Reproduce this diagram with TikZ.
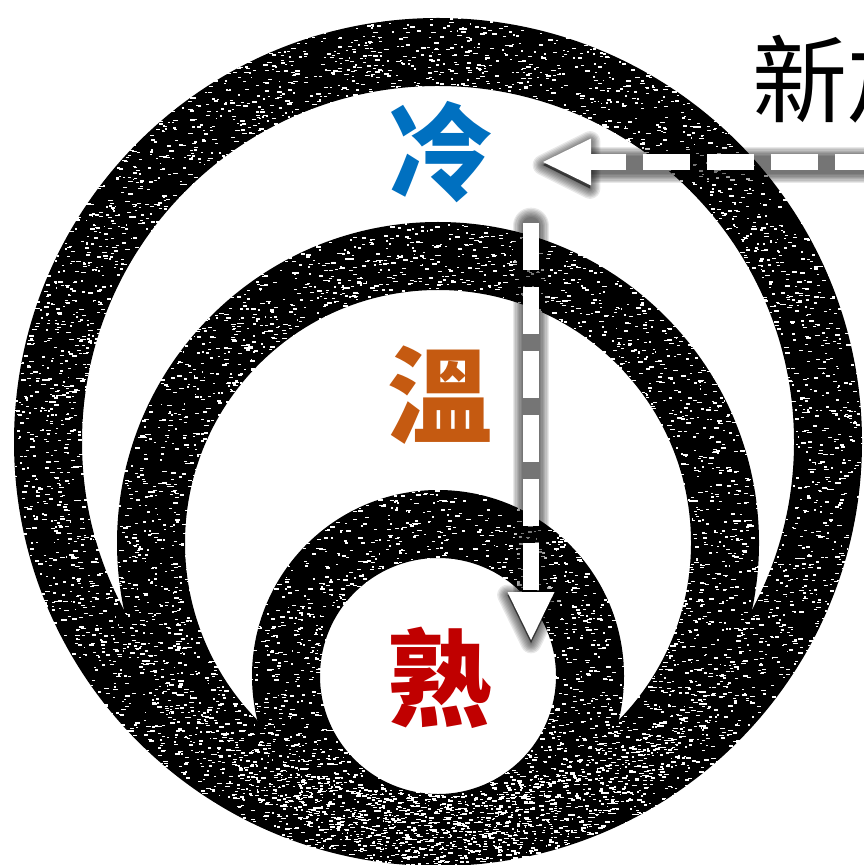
\documentclass[tikz,border=0pt]{standalone}
\usepackage{fontspec}
\newfontfamily\cjk{Noto Sans CJK TC}
\usetikzlibrary{arrows.meta}
\definecolor{coldblue}{HTML}{0070C0}
\definecolor{warmorange}{HTML}{C55A11}
\definecolor{hotred}{HTML}{C00000}
\begin{document}
\begin{tikzpicture}[x=0.3pt,y=-0.3pt,
  ringfill/.style={fill=black, even odd rule},
  speck/.style={fill=white},
  tierlabel/.style={font=\cjk\bfseries\fontsize{31.5pt}{31.5pt}\selectfont, inner sep=0pt},
  newlabel/.style={font=\cjk\fontsize{28.5pt}{28.5pt}\selectfont, inner sep=0pt, text=black},
  flowline/.style={draw=white, line width=4.8pt, dash pattern=on 14.1pt off 5.1pt,
    -{Triangle[width=14.1pt,length=14.4pt,line width=0pt]}},
  glowline/.style={draw=black, line cap=round, line join=round},
  glowhead/.style={fill=black, draw=black, line join=round}]
\useasboundingbox (0,0) rectangle (864,865);
\clip (0,0) rectangle (864,865);
\fill[white] (0,0) rectangle (864,865);

% rings
\fill[ringfill] (438,442) circle[radius=424] (438,442) circle[radius=356];
\fill[ringfill] (438,543) circle[radius=321] (438,543) circle[radius=253];
\fill[ringfill] (438,676) circle[radius=186] (438,676) circle[radius=118];

% chalk texture
\pgfmathsetseed{7}
\foreach \i in {1,...,3400}{
  \pgfmathsetmacro\a{360*rnd}
  \pgfmathsetmacro\r{354+72*rnd}
  \pgfmathsetmacro\l{1.5+3.5*rnd}
  \fill[speck] (438,442) ++(\a:\r) rectangle ++(\l,1.4);
}
\foreach \i in {1,...,2500}{
  \pgfmathsetmacro\a{360*rnd}
  \pgfmathsetmacro\r{251+72*rnd}
  \pgfmathsetmacro\l{1.5+3.5*rnd}
  \fill[speck] (438,543) ++(\a:\r) rectangle ++(\l,1.4);
}
\foreach \i in {1,...,1300}{
  \pgfmathsetmacro\a{360*rnd}
  \pgfmathsetmacro\r{116+72*rnd}
  \pgfmathsetmacro\l{1.5+3.5*rnd}
  \fill[speck] (438,676) ++(\a:\r) rectangle ++(\l,1.4);
}

% labels
\node[tierlabel, text=coldblue] (cold) at (440,152) {冷};
\node[tierlabel, text=warmorange] (warm) at (440,395) {溫};
\node[tierlabel, text=hotred] (hot) at (440,678) {熟};
\node[newlabel, anchor=west] (new) at (752,79) {新加入};

% arrow end points
\coordinate (hsrc) at (882,162);
\coordinate (hbase) at (590,162);
\coordinate (htip) at (543,162);
\coordinate (hup) at (590,138.5);
\coordinate (hdn) at (590,185.5);
\coordinate (vsrc) at (531,223);
\coordinate (vbase) at (531,592);
\coordinate (vtip) at (531,640);
\coordinate (vl) at (507.5,592);
\coordinate (vr) at (554.5,592);

% soft glow (shadow)
\foreach \lw/\hw in {11.0pt/6.2pt, 10.2pt/5.4pt, 9.4pt/4.6pt, 8.6pt/3.8pt, 7.8pt/3.0pt, 7.0pt/2.2pt, 6.2pt/1.4pt, 5.4pt/0.6pt}{
  \draw[glowline, line width=\lw, opacity=0.09] ([yshift=-0.9pt]hsrc) -- ([yshift=-0.9pt]hbase);
  \filldraw[glowhead, line width=\hw, opacity=0.09] ([yshift=-0.9pt]htip) -- ([yshift=-0.9pt]hup) -- ([yshift=-0.9pt]hdn) -- cycle;
  \draw[glowline, line width=\lw, opacity=0.09] ([yshift=-0.9pt]vsrc) -- ([yshift=-0.9pt]vbase);
  \filldraw[glowhead, line width=\hw, opacity=0.09] ([yshift=-0.9pt]vtip) -- ([yshift=-0.9pt]vl) -- ([yshift=-0.9pt]vr) -- cycle;
}

% dashed arrows
\draw[flowline] (hsrc) -- (htip);
\draw[flowline] (vsrc) -- (vtip);
\end{tikzpicture}
\end{document}
